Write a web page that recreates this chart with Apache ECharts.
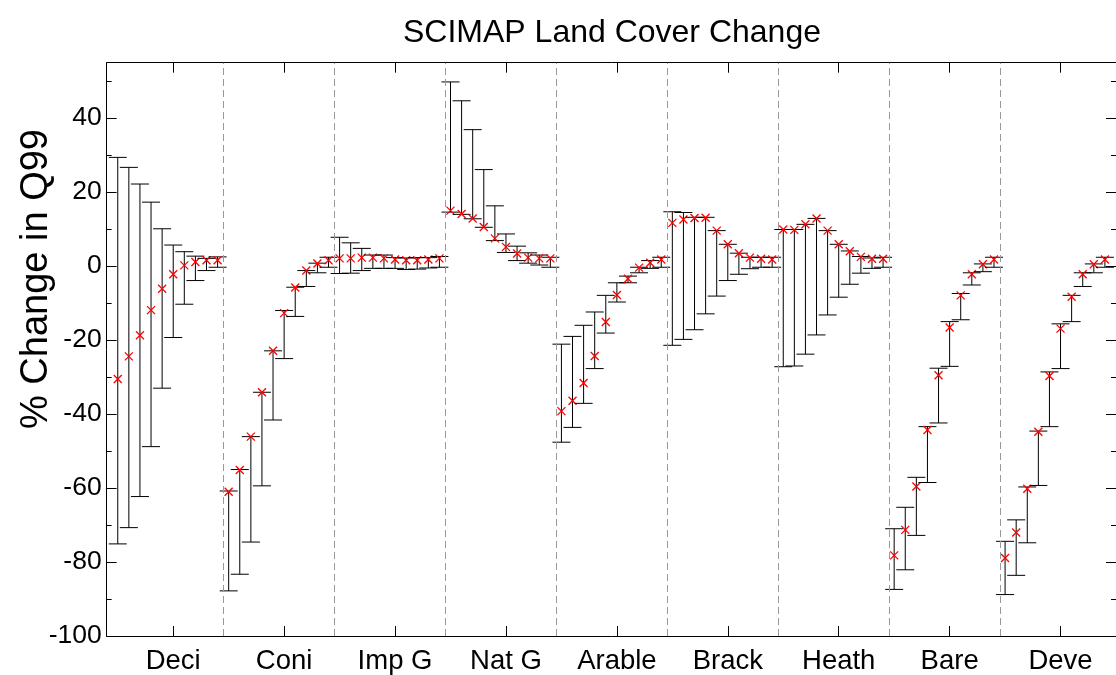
<!DOCTYPE html>
<html>
<head>
<meta charset="utf-8">
<script src="https://cdn.jsdelivr.net/npm/echarts@6/dist/echarts.min.js"></script>
<style>html,body{margin:0;padding:0;background:#fff}#c{width:1116px;height:675px}</style>
</head>
<body>
<div id="c"></div>
<script>
const categories = ['Deci', 'Coni', 'Imp G', 'Nat G', 'Arable', 'Brack', 'Heath', 'Bare', 'Deve'];
const yTicks = [-100, -80, -60, -40, -20, 0, 20, 40];

// % change in Q99 (red crosses), 10 values per land-cover class
const change = [
  [-30.5, -24.4, -18.7, -11.9, -6.1, -2.2, 0.2, 1.1, 1.6, 1.6],
  [-61.0, -55.1, -46.1, -34.1, -22.9, -12.7, -5.8, -1.2, 0.7, 1.6],
  [2.1, 2.1, 2.3, 2.3, 2.1, 1.8, 1.6, 1.6, 1.8, 2.1],
  [15.0, 14.1, 12.9, 10.6, 7.5, 5.2, 3.4, 2.3, 2.1, 2.1],
  [-39.2, -36.4, -31.6, -24.3, -15.1, -7.8, -3.4, -0.4, 0.9, 1.8],
  [11.7, 12.6, 13.0, 13.1, 9.6, 5.9, 3.5, 2.3, 2.0, 1.8],
  [9.9, 9.8, 11.3, 12.9, 9.6, 5.9, 4.0, 2.5, 2.0, 2.0],
  [-78.2, -71.3, -59.6, -44.3, -29.5, -16.6, -7.9, -2.2, 0.5, 1.8],
  [-78.9, -72.0, -60.2, -44.8, -29.7, -16.9, -8.3, -2.2, 0.5, 1.8]
];
// upper ends of the error bars
const upper = [
  [29.4, 26.7, 22.2, 17.3, 10.1, 5.7, 3.9, 2.7, 2.1, 2.5],
  [-60.8, -55.0, -46.1, -34.1, -22.9, -12.0, -5.7, -1.2, 0.8, 2.4],
  [7.8, 6.3, 4.8, 3.0, 3.0, 2.3, 2.2, 2.3, 2.3, 2.6],
  [49.8, 44.7, 36.9, 26.1, 16.3, 8.7, 5.4, 3.6, 3.0, 2.4],
  [-21.1, -19.0, -16.0, -12.4, -7.9, -4.5, -2.7, -0.3, 1.5, 2.4],
  [14.7, 14.5, 13.2, 13.2, 9.6, 5.9, 3.5, 2.4, 2.4, 2.4],
  [9.9, 9.9, 11.3, 12.9, 9.6, 5.9, 4.1, 2.6, 2.2, 2.4],
  [-71.0, -65.2, -57.1, -43.4, -27.6, -15.0, -7.4, -1.8, 0.6, 2.4],
  [-74.4, -68.6, -59.7, -44.6, -28.6, -15.6, -7.9, -1.8, 0.6, 2.4]
];
// lower ends of the error bars
const lower = [
  [-75.1, -70.7, -62.3, -48.8, -33.0, -19.3, -10.3, -3.9, -1.2, -0.3],
  [-87.8, -83.3, -74.6, -59.4, -41.6, -25.0, -13.6, -5.5, -1.8, -0.3],
  [-2.0, -1.9, -1.2, -0.6, -0.6, -0.6, -0.9, -0.8, -0.5, -0.3],
  [14.6, 14.0, 12.8, 10.5, 6.9, 3.7, 1.5, 0.8, 0.3, -0.3],
  [-47.6, -43.6, -37.1, -27.7, -18.1, -9.7, -4.5, -1.8, -0.6, -0.3],
  [-21.4, -19.8, -17.2, -12.9, -8.1, -3.9, -2.2, -0.7, -0.3, -0.3],
  [-27.2, -27.0, -23.8, -18.6, -13.2, -8.4, -4.9, -1.9, -0.6, -0.3],
  [-87.4, -82.1, -72.8, -58.5, -42.4, -27.1, -14.5, -5.1, -1.5, -0.3],
  [-88.8, -83.6, -74.8, -59.3, -43.4, -27.7, -15.0, -5.5, -1.8, -0.3]
];

const perGroup = 10;
const data = [];
categories.forEach((c, g) => {
  for (let i = 0; i < perGroup; i++) {
    data.push([g * perGroup + i + 1, lower[g][i], upper[g][i], change[g][i]]);
  }
});
const catTicks = categories.map((c, g) => g * perGroup + 6);
const separators = categories.slice(1).map((c, g) => (g + 1) * perGroup + 0.55);
const minorY = [-90, -70, -50, -30, -10, 10, 30, 50];

const FONT = '"Liberation Sans", Arial, Helvetica, sans-serif';
const chart = echarts.init(document.getElementById('c'), null, {renderer: 'canvas'});

function xAxisDef(pos, showLabel) {
  return {
    type: 'value', min: 0, max: 91, position: pos, splitLine: {show: false},
    axisLine: {show: true, onZero: false, lineStyle: {color: '#000', width: 1}},
    axisTick: {show: true, inside: true, length: 10, customValues: catTicks.slice(), lineStyle: {color: '#000', width: 1}},
    axisLabel: showLabel ? {show: true, customValues: catTicks.slice(), margin: 11, color: '#000', fontSize: 27.5, fontFamily: FONT,
                            formatter: v => categories[Math.round((v - 6) / perGroup)]} : {show: false}
  };
}
function yAxisDef(pos, major, showLine) {
  return {
    type: 'value', min: -100, max: 55, position: pos, offset: 0, splitLine: {show: false},
    axisLine: {show: showLine, onZero: false, lineStyle: {color: '#000', width: 1}},
    axisTick: {show: true, inside: true, length: major ? 10 : 5, customValues: (major ? yTicks : minorY).slice(),
               lineStyle: {color: '#000', width: 1}},
    axisLabel: (major && pos === 'left') ? {show: true, customValues: yTicks.slice(), margin: 5, color: '#000', fontSize: 26.5, fontFamily: FONT} : {show: false}
  };
}

chart.setOption({
  animation: false,
  graphic: [
    {type: 'text', x: 612, y: 33, silent: true,
     style: {text: 'SCIMAP Land Cover Change', textAlign: 'center', textVerticalAlign: 'middle',
             font: '32px ' + FONT, fill: '#000'}},
    {type: 'text', x: 37, y: 279, rotation: Math.PI / 2, silent: true,
     style: {text: '% Change in Q99', textAlign: 'center', textVerticalAlign: 'middle',
             font: '38px ' + FONT, fill: '#000'}}
  ],
  grid: {left: 106.67, top: 62.7, width: 1010.5, height: 575, containLabel: false},
  xAxis: [xAxisDef('bottom', true), xAxisDef('top', false)],
  yAxis: [yAxisDef('left', true, true), yAxisDef('left', false, false), yAxisDef('right', true, true), yAxisDef('right', false, false)],
  series: [
    {
      type: 'custom',
      xAxisIndex: 0, yAxisIndex: 0,
      data: data,
      encode: {x: 0, y: [1, 2, 3]},
      renderItem: function (params, api) {
        const x = api.value(0);
        const pHi = api.coord([x, api.value(2)]);
        const pLo = api.coord([x, api.value(1)]);
        const pV = api.coord([x, api.value(3)]);
        const cap = 9, m = 4;
        const black = {stroke: '#000', lineWidth: 1};
        const red = {stroke: '#ff0000', lineWidth: 1.3};
        return {
          type: 'group',
          children: [
            {type: 'line', shape: {x1: pHi[0], y1: pHi[1], x2: pLo[0], y2: pLo[1]}, style: black},
            {type: 'line', shape: {x1: pHi[0] - cap, y1: pHi[1], x2: pHi[0] + cap, y2: pHi[1]}, style: black},
            {type: 'line', shape: {x1: pLo[0] - cap, y1: pLo[1], x2: pLo[0] + cap, y2: pLo[1]}, style: black},
            {type: 'line', shape: {x1: pV[0] - m, y1: pV[1] - m, x2: pV[0] + m, y2: pV[1] + m}, style: red},
            {type: 'line', shape: {x1: pV[0] - m, y1: pV[1] + m, x2: pV[0] + m, y2: pV[1] - m}, style: red}
          ]
        };
      },
      markLine: {
        silent: true, symbol: ['none', 'none'], label: {show: false},
        lineStyle: {color: '#999', type: [7, 4], width: 1},
        data: separators.map(s => ({xAxis: s}))
      },
      z: 3
    }
  ]
});
</script>
</body>
</html>
